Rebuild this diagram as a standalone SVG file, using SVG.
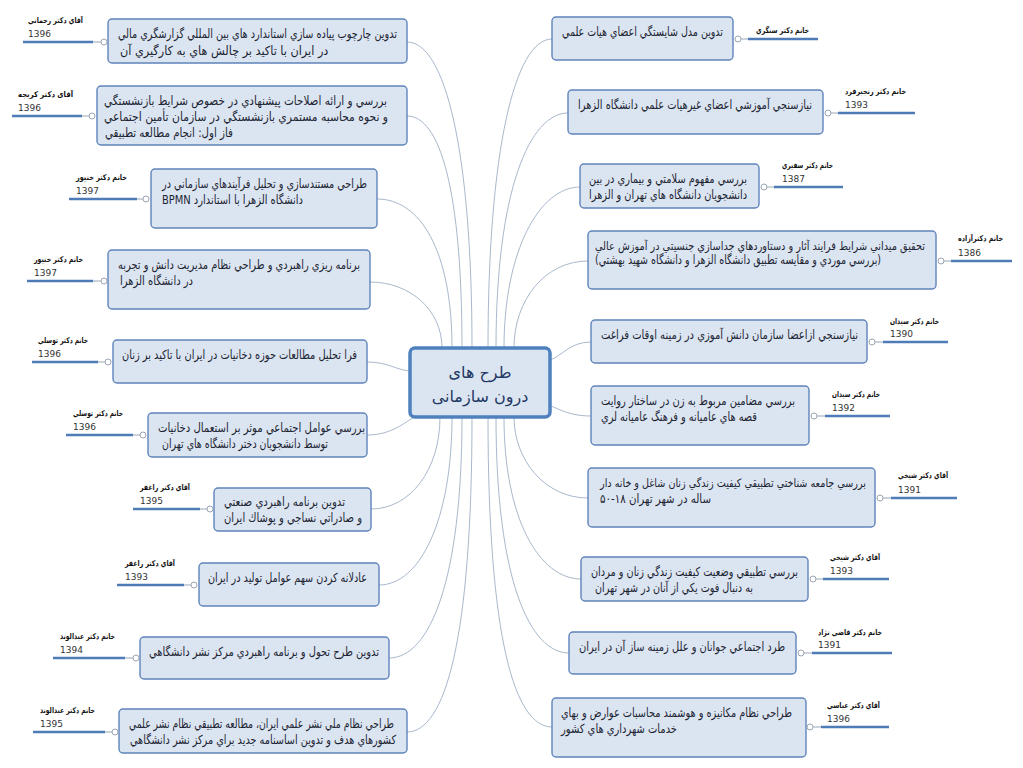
<svg xmlns="http://www.w3.org/2000/svg" width="1023" height="768" viewBox="0 0 1023 768">
<style>
.bg{fill:#ffffff}
.box{fill:#dbe5f1;stroke:#5f84bb;stroke-width:1.4}
.center{fill:#dbe5f1;stroke:#4f81bd;stroke-width:3.5}
.t{font-family:'DejaVu Sans Condensed','DejaVu Sans',sans-serif;font-size:12.5px;fill:#1c2433;direction:rtl;text-anchor:end}
.s{font-size:11.5px}
.ct{font-family:'DejaVu Sans',sans-serif;font-size:16px;fill:#1f3864;text-anchor:middle}
.nm{font-family:'DejaVu Sans Condensed','DejaVu Sans',sans-serif;font-size:8px;font-weight:bold;fill:#111}
.yr{font-family:'DejaVu Sans',sans-serif;font-size:9px;fill:#333}
.ul{stroke:#4f7cb8;stroke-width:2.6}
.tick{stroke:#9aa6b6;stroke-width:1}
.dot{fill:#fff;stroke:#9aa6b6;stroke-width:1}
.con{fill:none;stroke:#a8b8cc;stroke-width:1}
</style>
<rect class="bg" x="0" y="0" width="1023" height="768"/>

<g id="connectors">
<path class="con" d="M407,42 C445,42 472,150 472,348"/>
<path class="con" d="M407,116 C440,116 462,190 462,348"/>
<path class="con" d="M377,199 C420,199 452,250 452,348"/>
<path class="con" d="M370,282 C410,282 442,310 442,348"/>
<path class="con" d="M367,362 C388,362 396,370 410,371"/>
<path class="con" d="M367,435 C392,435 405,422 416,416"/>
<path class="con" d="M371,509 C410,509 440,470 440,417"/>
<path class="con" d="M379,585 C420,585 452,520 452,417"/>
<path class="con" d="M389,658 C430,658 462,580 462,417"/>
<path class="con" d="M407,732 C445,732 472,640 472,417"/>
<path class="con" d="M552,39 C515,39 488,150 488,348"/>
<path class="con" d="M568,113 C530,113 496,190 496,348"/>
<path class="con" d="M580,187 C540,187 504,250 504,348"/>
<path class="con" d="M588,261 C545,261 514,300 514,348"/>
<path class="con" d="M591,342 C570,342 562,356 550,360"/>
<path class="con" d="M591,416 C568,416 558,408 548,405"/>
<path class="con" d="M588,498 C545,498 514,460 514,417"/>
<path class="con" d="M581,579 C540,579 504,520 504,417"/>
<path class="con" d="M569,653 C530,653 496,580 496,417"/>
<path class="con" d="M552,727 C515,727 488,640 488,417"/>
</g>

<g id="center">
<rect class="center" x="410" y="348" width="140" height="69" rx="5"/>
<text class="ct" x="480" y="378">طرح های</text>
<text class="ct" x="480" y="402">درون سازمانی</text>
</g>

<g id="L1">
<rect class="box" x="108" y="19" width="299" height="44" rx="4"/>
<text class="t" x="118" y="38" textLength="279" lengthAdjust="spacingAndGlyphs">تدوین چارچوب پیاده سازي استاندارد هاي بین المللي گزارشگري مالي</text>
<text class="t" x="120" y="55">در ایران با تاکید بر چالش هاي به کارگیري آن</text>
<line class="tick" x1="93" y1="42" x2="101" y2="42"/><circle class="dot" cx="104" cy="42" r="3"/>
<line class="ul" x1="23" y1="42" x2="93" y2="42"/>
<text class="nm" x="28" y="23" textLength="55" lengthAdjust="spacingAndGlyphs">آقاي دكتر رحماني</text>
<text class="yr" x="28" y="37">1396</text>
</g>

<g id="L2">
<rect class="box" x="97" y="86" width="310" height="59" rx="4"/>
<text class="t" x="104" y="105" textLength="283" lengthAdjust="spacingAndGlyphs">بررسي و ارائه اصلاحات پیشنهادي در خصوص شرایط بازنشستگي</text>
<text class="t" x="104" y="121" textLength="284" lengthAdjust="spacingAndGlyphs">و نحوه محاسبه مستمري بازنشستگي در سازمان تأمین اجتماعي</text>
<text class="t" x="105" y="137" textLength="128" lengthAdjust="spacingAndGlyphs">فاز اول: انجام مطالعه تطبیقي</text>
<line class="tick" x1="82" y1="116" x2="89" y2="116"/><circle class="dot" cx="92" cy="116" r="3"/>
<line class="ul" x1="12" y1="116" x2="82" y2="116"/>
<text class="nm" x="18" y="97" textLength="55" lengthAdjust="spacingAndGlyphs">آقای دکتر کربجه</text>
<text class="yr" x="18" y="111">1396</text>
</g>

<g id="L3">
<rect class="box" x="151" y="169" width="226" height="59" rx="4"/>
<text class="t" x="162" y="188" textLength="205" lengthAdjust="spacingAndGlyphs">طراحي مستندسازي و تحليل فرآيندهاي سازماني در</text>
<text class="t" x="162" y="204" textLength="141" lengthAdjust="spacingAndGlyphs">دانشگاه الزهرا با استاندارد BPMN</text>
<line class="tick" x1="137" y1="199" x2="143" y2="199"/><circle class="dot" cx="146" cy="199" r="3"/>
<line class="ul" x1="69" y1="199" x2="137" y2="199"/>
<text class="nm" x="76" y="180" textLength="51" lengthAdjust="spacingAndGlyphs">خانم دكتر خنيور</text>
<text class="yr" x="76" y="194">1397</text>
</g>

<g id="L4">
<rect class="box" x="108" y="250" width="262" height="59" rx="4"/>
<text class="t" x="118" y="269" textLength="242" lengthAdjust="spacingAndGlyphs">برنامه ريزي راهبردي و طراحي نظام مديريت دانش و تجربه</text>
<text class="t" x="120" y="285" textLength="73" lengthAdjust="spacingAndGlyphs">در دانشگاه الزهرا</text>
<line class="tick" x1="93" y1="281" x2="101" y2="281"/><circle class="dot" cx="104" cy="281" r="3"/>
<line class="ul" x1="27" y1="281" x2="93" y2="281"/>
<text class="nm" x="34" y="262" textLength="49" lengthAdjust="spacingAndGlyphs">خانم دكتر خنيور</text>
<text class="yr" x="34" y="276">1397</text>
</g>

<g id="L5">
<rect class="box" x="113" y="340" width="254" height="43" rx="4"/>
<text class="t" x="122" y="359" textLength="235" lengthAdjust="spacingAndGlyphs">فرا تحليل مطالعات حوزه دخانيات در ايران با تاكيد بر زنان</text>
<line class="tick" x1="98" y1="362" x2="105" y2="362"/><circle class="dot" cx="108" cy="362" r="3"/>
<line class="ul" x1="32" y1="362" x2="98" y2="362"/>
<text class="nm" x="38" y="343" textLength="50" lengthAdjust="spacingAndGlyphs">خانم دكتر توسلي</text>
<text class="yr" x="38" y="357">1396</text>
</g>

<g id="L6">
<rect class="box" x="148" y="413" width="219" height="44" rx="4"/>
<text class="t" x="158" y="432" textLength="207" lengthAdjust="spacingAndGlyphs">بررسي عوامل اجتماعي موثر بر استعمال دخانيات</text>
<text class="t" x="162" y="448" textLength="166" lengthAdjust="spacingAndGlyphs">توسط دانشجويان دختر دانشگاه هاي تهران</text>
<line class="tick" x1="133" y1="435" x2="140" y2="435"/><circle class="dot" cx="143" cy="435" r="3"/>
<line class="ul" x1="66" y1="435" x2="133" y2="435"/>
<text class="nm" x="73" y="416" textLength="50" lengthAdjust="spacingAndGlyphs">خانم دكتر توسلي</text>
<text class="yr" x="73" y="430">1396</text>
</g>

<g id="L7">
<rect class="box" x="214" y="488" width="157" height="43" rx="4"/>
<text class="t" x="224" y="506" textLength="121" lengthAdjust="spacingAndGlyphs">تدوين برنامه راهبردي صنعتي</text>
<text class="t" x="224" y="522" textLength="138" lengthAdjust="spacingAndGlyphs">و صادراتي نساجي و پوشاك ايران</text>
<line class="tick" x1="200" y1="509" x2="207" y2="509"/><circle class="dot" cx="210" cy="509" r="3"/>
<line class="ul" x1="133" y1="509" x2="200" y2="509"/>
<text class="nm" x="140" y="490" textLength="50" lengthAdjust="spacingAndGlyphs">آقاي دكتر راغفر</text>
<text class="yr" x="140" y="504">1395</text>
</g>

<g id="L8">
<rect class="box" x="199" y="563" width="180" height="43" rx="4"/>
<text class="t" x="208" y="582" textLength="159" lengthAdjust="spacingAndGlyphs">عادلانه كردن سهم عوامل توليد در ايران</text>
<line class="tick" x1="184" y1="585" x2="191" y2="585"/><circle class="dot" cx="194" cy="585" r="3"/>
<line class="ul" x1="117" y1="585" x2="184" y2="585"/>
<text class="nm" x="125" y="566" textLength="50" lengthAdjust="spacingAndGlyphs">آقاي دكتر راغفر</text>
<text class="yr" x="125" y="580">1393</text>
</g>

<g id="L9">
<rect class="box" x="140" y="637" width="249" height="42" rx="4"/>
<text class="t" x="149" y="656" textLength="230" lengthAdjust="spacingAndGlyphs">تدوين طرح تحول و برنامه راهبردي مركز نشر دانشگاهي</text>
<line class="tick" x1="125" y1="658" x2="133" y2="658"/><circle class="dot" cx="136" cy="658" r="3"/>
<line class="ul" x1="53" y1="658" x2="125" y2="658"/>
<text class="nm" x="60" y="639" textLength="55" lengthAdjust="spacingAndGlyphs">خانم دكتر عبدالوند</text>
<text class="yr" x="60" y="653">1394</text>
</g>

<g id="L10">
<rect class="box" x="119" y="709" width="288" height="44" rx="4"/>
<text class="t" x="129" y="728" textLength="265" lengthAdjust="spacingAndGlyphs">طراحي نظام ملي نشر علمي ايران، مطالعه تطبيقي نظام نشر علمي</text>
<text class="t" x="130" y="744" textLength="266" lengthAdjust="spacingAndGlyphs">كشورهاي هدف و تدوين اساسنامه جديد براي مركز نشر دانشگاهي</text>
<line class="tick" x1="105" y1="732" x2="112" y2="732"/><circle class="dot" cx="115" cy="732" r="3"/>
<line class="ul" x1="33" y1="732" x2="105" y2="732"/>
<text class="nm" x="40" y="713" textLength="55" lengthAdjust="spacingAndGlyphs">خانم دكتر عبدالوند</text>
<text class="yr" x="40" y="727">1395</text>
</g>

<g id="R1">
<rect class="box" x="552" y="17" width="181" height="43" rx="4"/>
<text class="t" x="562" y="36" textLength="161" lengthAdjust="spacingAndGlyphs">تدوين مدل شايستگي اعضاي هيات علمي</text>
<circle class="dot" cx="738" cy="39" r="3"/><line class="tick" x1="741" y1="39" x2="748" y2="39"/>
<line class="ul" x1="748" y1="39" x2="818" y2="39"/>
<text class="nm" x="756" y="33" textLength="53" lengthAdjust="spacingAndGlyphs">خانم دكتر سنگري</text>
</g>

<g id="R2">
<rect class="box" x="568" y="90" width="255" height="44" rx="4"/>
<text class="t" x="578" y="109" textLength="234" lengthAdjust="spacingAndGlyphs">نيازسنجي آموزشي اعضاي غيرهيات علمي دانشگاه الزهرا</text>
<circle class="dot" cx="828" cy="113" r="3"/><line class="tick" x1="831" y1="113" x2="838" y2="113"/>
<line class="ul" x1="838" y1="113" x2="915" y2="113"/>
<text class="nm" x="845" y="94" textLength="61" lengthAdjust="spacingAndGlyphs">خانم دكتر رنجبرفرد</text>
<text class="yr" x="845" y="108">1393</text>
</g>

<g id="R3">
<rect class="box" x="580" y="164" width="179" height="44" rx="4"/>
<text class="t" x="589" y="183" textLength="158" lengthAdjust="spacingAndGlyphs">بررسي مفهوم سلامتي و بيماري در بين</text>
<text class="t" x="589" y="199" textLength="158" lengthAdjust="spacingAndGlyphs">دانشجويان دانشگاه هاي تهران و الزهرا</text>
<circle class="dot" cx="764" cy="187" r="3"/><line class="tick" x1="767" y1="187" x2="774" y2="187"/>
<line class="ul" x1="774" y1="187" x2="843" y2="187"/>
<text class="nm" x="782" y="168" textLength="51" lengthAdjust="spacingAndGlyphs">خانم دكتر سفيري</text>
<text class="yr" x="782" y="182">1387</text>
</g>

<g id="R4">
<rect class="box" x="588" y="231" width="348" height="58" rx="4"/>
<text class="t s" x="595" y="250" textLength="330" lengthAdjust="spacingAndGlyphs">تحقيق ميداني شرايط فرايند آثار و دستاوردهاي جداسازي جنسيتي در آموزش عالي</text>
<text class="t" x="595" y="264" textLength="286" lengthAdjust="spacingAndGlyphs">(بررسي موردي و مقايسه تطبيق دانشگاه الزهرا و دانشگاه شهيد بهشتي)</text>
<circle class="dot" cx="941" cy="261" r="3"/><line class="tick" x1="944" y1="261" x2="951" y2="261"/>
<line class="ul" x1="951" y1="261" x2="1012" y2="261"/>
<text class="nm" x="958" y="241" textLength="45" lengthAdjust="spacingAndGlyphs">خانم دكترآزاده</text>
<text class="yr" x="958" y="256">1386</text>
</g>

<g id="R5">
<rect class="box" x="591" y="320" width="276" height="43" rx="4"/>
<text class="t" x="601" y="339" textLength="257" lengthAdjust="spacingAndGlyphs">نيازسنجي ازاعضا سازمان دانش آموزي در زمينه اوقات فراغت</text>
<circle class="dot" cx="872" cy="342" r="3"/><line class="tick" x1="875" y1="342" x2="883" y2="342"/>
<line class="ul" x1="883" y1="342" x2="948" y2="342"/>
<text class="nm" x="890" y="324" textLength="49" lengthAdjust="spacingAndGlyphs">خانم دكتر سيدان</text>
<text class="yr" x="890" y="337">1390</text>
</g>

<g id="R6">
<rect class="box" x="591" y="386" width="218" height="59" rx="4"/>
<text class="t" x="601" y="405" textLength="194" lengthAdjust="spacingAndGlyphs">بررسي مضامين مربوط به زن در ساختار روايت</text>
<text class="t" x="601" y="421" textLength="156" lengthAdjust="spacingAndGlyphs">قصه هاي عاميانه و فرهنگ عاميانه لري</text>
<circle class="dot" cx="814" cy="416" r="3"/><line class="tick" x1="817" y1="416" x2="825" y2="416"/>
<line class="ul" x1="825" y1="416" x2="890" y2="416"/>
<text class="nm" x="832" y="397" textLength="48" lengthAdjust="spacingAndGlyphs">خانم دكتر سيدان</text>
<text class="yr" x="832" y="411">1392</text>
</g>

<g id="R7">
<rect class="box" x="588" y="468" width="287" height="59" rx="4"/>
<text class="t s" x="600" y="487" textLength="266" lengthAdjust="spacingAndGlyphs">بررسي جامعه شناختي تطبيقي كيفيت زندگي زنان شاغل و خانه دار</text>
<text class="t" x="600" y="503" textLength="111" lengthAdjust="spacingAndGlyphs">ساله در شهر تهران ۱۸-۵۰</text>
<circle class="dot" cx="880" cy="498" r="3"/><line class="tick" x1="883" y1="498" x2="891" y2="498"/>
<line class="ul" x1="891" y1="498" x2="957" y2="498"/>
<text class="nm" x="898" y="478" textLength="50" lengthAdjust="spacingAndGlyphs">آقاي دكتر شيخي</text>
<text class="yr" x="898" y="493">1391</text>
</g>

<g id="R8">
<rect class="box" x="581" y="557" width="227" height="44" rx="4"/>
<text class="t" x="591" y="576" textLength="207" lengthAdjust="spacingAndGlyphs">بررسي تطبيقي وضعيت كيفيت زندگي زنان و مردان</text>
<text class="t" x="595" y="592" textLength="158" lengthAdjust="spacingAndGlyphs">به دنبال فوت يكي از آنان در شهر تهران</text>
<circle class="dot" cx="813" cy="579" r="3"/><line class="tick" x1="816" y1="579" x2="823" y2="579"/>
<line class="ul" x1="823" y1="579" x2="889" y2="579"/>
<text class="nm" x="830" y="560" textLength="50" lengthAdjust="spacingAndGlyphs">آقاي دكتر شيخي</text>
<text class="yr" x="830" y="574">1393</text>
</g>

<g id="R9">
<rect class="box" x="569" y="632" width="227" height="42" rx="4"/>
<text class="t" x="579" y="651" textLength="206" lengthAdjust="spacingAndGlyphs">طرد اجتماعي جوانان و علل زمينه ساز آن در ايران</text>
<circle class="dot" cx="801" cy="653" r="3"/><line class="tick" x1="804" y1="653" x2="812" y2="653"/>
<line class="ul" x1="812" y1="653" x2="892" y2="653"/>
<text class="nm" x="818" y="635" textLength="64" lengthAdjust="spacingAndGlyphs">خانم دكتر قاضي نژاد</text>
<text class="yr" x="818" y="648">1391</text>
</g>

<g id="R10">
<rect class="box" x="552" y="698" width="254" height="59" rx="4"/>
<text class="t" x="561" y="717" textLength="231" lengthAdjust="spacingAndGlyphs">طراحي نظام مكانيزه و هوشمند محاسبات عوارض و بهاي</text>
<text class="t" x="561" y="733" textLength="116" lengthAdjust="spacingAndGlyphs">خدمات شهرداري هاي كشور</text>
<circle class="dot" cx="810" cy="727" r="3"/><line class="tick" x1="813" y1="727" x2="821" y2="727"/>
<line class="ul" x1="821" y1="727" x2="889" y2="727"/>
<text class="nm" x="827" y="708" textLength="53" lengthAdjust="spacingAndGlyphs">آقاي دكتر عباسي</text>
<text class="yr" x="827" y="722">1396</text>
</g>
</svg>
